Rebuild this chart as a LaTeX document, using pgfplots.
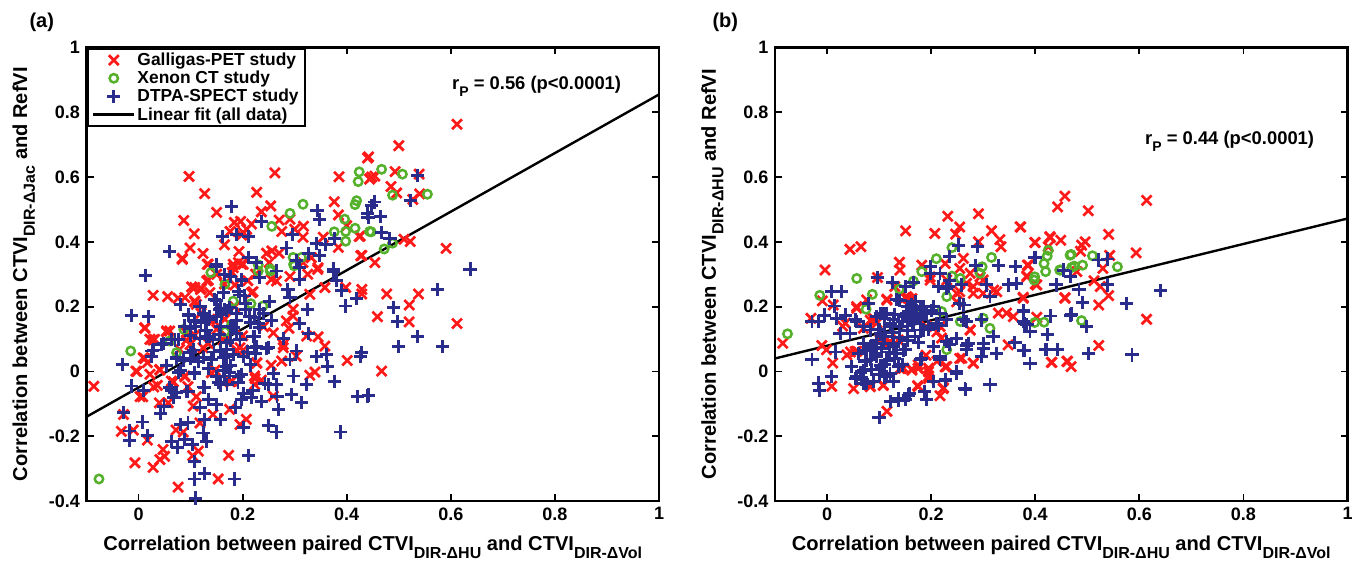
\documentclass[border=0pt]{standalone}
\usepackage{pgfplots}
\pgfplotsset{compat=1.18}
\usepackage{fontspec}
\setmainfont{Liberation Sans}
\definecolor{cred}{HTML}{FF1A1A}
\definecolor{cgreen}{HTML}{55B12B}
\definecolor{cblue}{HTML}{2A2C8C}
\newcommand\sub[1]{\raisebox{-.38em}{\fontsize{16}{16}\selectfont #1}}
\newcommand\subs[1]{\raisebox{-.38em}{\fontsize{14}{14}\selectfont #1}}
\pgfplotsset{
 panel/.style={
  scale only axis, width=572.5pt, height=453.5pt, anchor=south west,
  xmin=-0.1, xmax=1, ymin=-0.4, ymax=1,
  xtick={0,0.2,0.4,0.6,0.8,1}, ytick={-0.4,-0.2,0,0.2,0.4,0.6,0.8,1},
  xticklabels={0,0.2,0.4,0.6,0.8,1},
  yticklabels={-0.4,-0.2,0,0.2,0.4,0.6,0.8,1},
  tick align=inside, major tick length=7pt,
  tick style={line width=1.8pt,black},
  axis line style={line width=2.2pt},
  tick label style={font=\fontsize{18}{20}\bfseries\selectfont},
  xticklabel style={yshift=-3pt},
  yticklabel style={xshift=-3pt},
  label style={font=\fontsize{20.1}{22}\bfseries\selectfont},
  xlabel style={at={(axis description cs:0.5,-0.11)},anchor=base},
  ylabel style={at={(axis description cs:-0.1035,0.5)},anchor=base},
 },
 redm/.style={only marks,mark=x,mark size=7pt,mark options={cred,line width=2.7pt}},
 greenm/.style={only marks,mark=o,mark size=4.2pt,mark options={cgreen,line width=2.5pt,fill=none}},
 bluem/.style={only marks,mark=+,mark size=6.6pt,mark options={cblue,line width=2.9pt}},
}
\begin{document}
\begin{tikzpicture}[x=1pt,y=1pt]
\path[use as bounding box] (0,0) rectangle (1371,565);
\begin{axis}[panel, at={(86.5pt,64pt)},
  xlabel={Correlation between paired CTVI\sub{DIR-ΔHU} and CTVI\sub{DIR-ΔVol}},
  ylabel={Correlation between CTVI\sub{DIR-ΔJac} and RefVI},
  legend cell align=left,
  legend style={at={(0,1)},anchor=north west,draw=black,line width=2.2pt,fill=white,
    font=\fontsize{17.4}{20}\bfseries\selectfont,inner xsep=4.5pt,inner ysep=2.5pt,
    /tikz/every even column/.append style={column sep=0pt}},
  legend image code/.code={\draw[mark repeat=2,mark phase=2,#1] plot coordinates {(0pt,0pt)(20.5pt,0pt)(41pt,0pt)};},
]
\addplot[redm] coordinates {
(.097,.602)(.127,.549)(.150,.491)(.087,.466)(.107,.425)(.099,.381)(.084,.349)(.124,.364)(.132,.331)(.165,.391)
(.262,.613)(.227,.553)(.254,.511)(.236,.493)(.270,.467)(.291,.470)(.184,.460)(.196,.463)(.176,.432)(.201,.429)
(.208,.439)(.217,.455)(.198,.421)(.275,.432)(.317,.448)(.300,.439)(.316,.414)(.385,.601)(.376,.524)(.384,.483)
(.400,.450)(.424,.417)(.355,.414)(.384,.383)(.427,.357)(.440,.659)(.444,.594)(.193,.370)(.246,.365)(.256,.372)
(.270,.365)(.251,.336)(.182,.331)(.192,.336)(.201,.331)(.316,.336)(.332,.351)(.345,.320)
(.612,.763)(.500,.697)(.442,.662)(.493,.617)(.539,.609)(.448,.600)(.454,.603)(.485,.571)(.496,.551)(.540,.548)
(.527,.531)(.426,.418)(.510,.408)(.522,.401)(.591,.380)(.429,.358)(.454,.336)(.429,.239)(.477,.239)(.538,.239)
(.520,.205)(.459,.169)(.520,.153)(.612,.148)(.467,.001)
(-.086,-.046)(-.005,.001)(.012,.135)(.009,.042)(.017,.027)(.022,.099)(.031,.099)(.028,.235)(.056,.231)(.076,.226)
(.089,.228)(.108,.259)(.119,.253)(.108,.217)(.084,.346)(.134,.331)(.131,.279)(.137,.243)(.182,.320)(.198,.331)
(.180,.305)(.217,.243)(.255,.284)(.265,.279)(.291,.293)(.325,.300)(.344,.315)(.329,.238)(.358,.259)(.398,.259)
(.429,.253)(.297,.192)(.284,.156)(.297,.171)(.289,.133)(.259,.119)(.278,.083)(.278,.073)(.323,.109)(.345,.107)
(.358,.078)(.401,.034)(.339,-.002)(.329,-.012)(.303,.047)(.275,.032)(.255,.019)(.259,-.076)(.227,.027)(.223,-.014)
(.236,-.027)(.223,-.040)(.195,.073)(.207,-.148)(.195,-.164)(.175,-.117)(.143,-.133)(.118,-.159)(.115,-.246)(.104,-.260)
(.173,-.259)(.153,-.332)(.076,-.357)(.028,-.296)(.041,-.272)(.050,-.262)(.047,-.241)(-.007,-.282)(.017,-.212)(-.033,-.185)
(-.010,-.181)(-.029,-.133)(.008,-.078)(.040,-.097)(.057,-.097)(.072,-.181)(.086,-.187)(.036,-.043)(.041,.006)(.022,-.009)
(.063,-.030)(.089,-.014)(.095,-.047)(.111,-.078)(.105,-.107)(.140,-.004)(.179,-.030)(.054,.125)(.099,.083)(.111,.207)
(.124,.073)(.079,.068)(.137,.161)(.166,.161)(.169,.109)(.092,.119)(.060,.125)(.150,.300)(.165,.270)(.120,.180)
(.150,.130)(.200,.110)(.185,.200)(.210,.280)(.225,.300)
(.108,.215)(.102,.261)(.121,.256)(.134,.282)(.185,.267)(.220,.246)(.012,.133)(.028,.097)(.012,.040)(-.003,.0)
(.041,.004)(.054,.122)(.092,.097)(.089,-.017)(.144,.158)(.147,.004)(.176,-.032)(.224,-.022)(.227,.025)(.188,.066)
(.240,.138)(.201,.066)(.108,.112)(.134,.086)(.163,.097)(.029,-.048)(.067,-.032)(.003,-.078)
};
\addlegendentry{Galligas-PET study}
\addplot[greenm] coordinates {
(.256,.448)(.291,.488)(.316,.516)(.396,.470)(.376,.431)(.398,.432)(.416,.442)(.398,.402)(.424,.616)(.422,.586)
(.419,.527)(.416,.515)(.444,.432)(.297,.352)(.313,.352)(.230,.329)(.253,.316)(.299,.326)
(.467,.624)(.507,.609)(.488,.544)(.555,.547)(.447,.431)(.488,.396)(.472,.378)
(-.015,.063)(-.076,-.332)(.087,.130)(.060,.094)(.073,.058)(.166,.122)(.179,.145)(.166,.269)(.182,.217)(.216,.209)
(.239,.202)(.139,.305)(.230,.310)(.253,.310)(.298,.331)
};
\addlegendentry{Xenon CT study}
\addplot[bluem] coordinates {
(.178,.508)(.236,.462)(.161,.417)(.188,.422)(.211,.417)(.059,.369)(.150,.331)(.211,.351)(.227,.336)(.284,.381)
(.296,.422)(.343,.496)(.347,.470)(.342,.396)(.360,.393)(.376,.410)(.326,.365)(.348,.357)(.304,.342)(.441,.475)
(.375,.316)(.448,.511)
(.536,.604)(.454,.523)(.522,.527)(.440,.487)(.465,.479)(.467,.429)(.483,.410)(.637,.316)(.574,.252)(.490,.197)
(.498,.154)(.536,.108)(.500,.077)(.584,.077)(.429,.058)(.442,-.073)
(.013,.297)(-.013,.173)(.019,.169)(.081,.207)(.096,.176)(.108,.156)(.127,.176)(.146,.222)(.149,.325)(.166,.300)
(.198,.284)(.192,.248)(.204,.233)(.163,.243)(.166,.192)(.156,.192)(.174,.197)(.252,.217)(.233,.192)(.265,.310)
(.233,.289)(.310,.284)(.310,.320)(.287,.253)(.291,.228)(.374,.307)(.380,.282)(.390,.251)(.419,.225)(.398,.202)
(.324,.192)(.310,.148)(.326,.117)(.278,.102)(.255,.156)(.233,.135)(.223,.109)(.223,.073)(.249,.073)(.303,.063)
(.291,.037)(.342,.045)(.361,.053)(.363,.014)(.426,.045)(.440,-.076)(.420,-.078)(.376,-.030)(.323,-.040)(.297,-.014)
(.260,-.006)(.265,-.040)(.249,-.040)(.294,-.071)(.313,-.097)(.266,-.078)(.236,-.092)(.269,-.117)(.217,-.081)(.198,-.087)
(.249,-.166)(.265,-.187)(.388,-.187)(.201,-.174)(.211,-.259)(.185,-.332)(.127,-.316)(.108,-.332)(.109,-.391)(.108,-.277)
(.104,-.226)(.124,-.190)(.131,-.215)(.126,-.148)(.157,-.148)(.118,-.112)(.150,-.102)(.186,-.112)(.191,-.035)(.198,-.009)
(.153,-.035)(.127,-.050)(.134,-.087)(.095,-.061)(.073,-.066)(.068,-.081)(.060,-.050)(.049,-.107)(.042,-.130)(.081,-.164)
(.089,-.210)(.063,-.217)(.075,-.236)(.095,-.159)(.008,-.156)(-.017,-.184)(-.017,-.212)(.017,-.197)(-.029,-.128)(-.013,-.045)
(.010,-.058)(-.031,.022)(.025,.047)(.026,.063)(.054,.019)(.044,.083)(.063,.099)(.076,.099)(.089,.140)(.073,.042)
(.086,.037)(.076,-.004)(.108,-.004)(.099,.058)(.124,.042)(.140,.037)(.131,.109)(.143,.099)(.156,.114)(.182,.135)
(.195,.099)(.169,.068)(.163,.042)(.182,.053)(.201,.047)(.169,.016)(.175,-.004)(.166,-.014)(.223,.166)(.188,.156)
(.129,.125)(.110,.140)(.100,.110)(.120,.150)(.118,.200)(.135,.160)(.160,.180)(.150,.170)(.100,.040)(.115,.030)
(.135,.010)(.145,.060)(.170,.090)(.205,.190)(.215,.150)(.170,-.040)(.210,.060)(.215,.020)
(.096,.174)(.108,.153)(.099,.133)(.125,.179)(.137,.169)(.157,.195)(.169,.189)(.150,.220)(.195,.236)(.205,.210)
(.188,.179)(.176,.138)(.157,.138)(.131,.128)(.137,.107)(.118,.102)(.105,.066)(.086,.035)(.070,.097)(.048,.086)
(.080,.004)(.073,.040)(.108,-.006)(.157,.066)(.176,.097)(.188,.117)(.220,.107)(.227,.076)(.246,.071)(.224,.055)
(.169,.045)(.176,.019)(.163,.004)(.150,-.017)(.157,-.042)(.125,-.048)(.093,-.063)(.064,-.058)(.201,-.068)(.220,-.058)
(.243,-.037)(.192,-.017)(.214,.169)(.240,.179)(.230,.148)(.198,.282)(.176,.292)(.029,.066)
};
\addlegendentry{DTPA-SPECT study}
\addplot[black,line width=2.4pt,no marks] coordinates {(-0.1,-0.14)(1,0.855)};
\addlegendentry{Linear fit (all data)}
\end{axis}
\begin{axis}[panel, at={(775pt,64pt)},
  xlabel={Correlation between paired CTVI\sub{DIR-ΔHU} and CTVI\sub{DIR-ΔVol}},
  ylabel={Correlation between CTVI\sub{DIR-ΔHU} and RefVI},
]
\addplot[redm] coordinates {
(-.085,.087)(-.031,.164)(-.004,.313)(.044,.377)(.065,.385)(-.009,.218)(.012,.205)(.151,.434)(.097,.290)(.139,.337)
(.140,.313)(.057,.195)(.115,.223)(.232,.479)(.291,.487)(.207,.426)(.247,.424)(.255,.446)(.291,.400)(.316,.434)
(.332,.407)(.334,.385)(.372,.446)(.399,.398)(.428,.416)(.449,.405)(.457,.541)(.443,.508)(.182,.328)(.262,.349)
(.227,.333)(.255,.318)(.275,.303)(.294,.292)(.387,.328)(.384,.292)(.457,.228)(.403,.267)(.377,.226)(.326,.246)
(.300,.241)(.281,.262)(.255,.246)(.249,.215)(.329,.180)(.345,.180)(.358,.169)(.403,.167)(.275,.128)(.217,.139)
(.220,.103)(.348,.082)(.281,.026)(.259,.041)(.432,.028)(.461,.031)(.230,.015)(.211,.031)(.195,.010)(.195,-.015)
(.174,-.044)(.217,-.075)(.224,-.051)(.163,.007)(.147,.010)(.108,-.043)(.115,-.123)(.009,-.046)(.051,-.053)(.083,-.046)
(.011,.026)(-.010,.080)(-.001,.067)(.038,.051)(.057,.062)(.035,.149)(.092,.159)(.156,.226)(.130,.262)(.076,.221)
(.118,.087)(.191,.139)(.198,.282)(.137,.097)(.230,.282)(.088,.165)(.096,.150)(.150,.228)(.160,.222)(.190,.050)
(.175,.020)(.030,.140)(.045,.060)
(.502,.496)(.614,.528)(.371,.446)(.541,.423)(.400,.398)(.429,.413)(.496,.400)(.489,.390)(.487,.371)(.425,.385)
(.594,.366)(.543,.358)(.385,.328)(.530,.318)(.480,.308)(.384,.295)(.400,.270)(.513,.280)(.525,.262)(.541,.234)
(.377,.229)(.457,.226)(.522,.205)(.614,.161)(.522,.080)(.431,.028)(.462,.031)(.469,.015)
(.089,.164)(.091,.155)(.083,.158)(.153,.231)(.163,.225)(.115,.220)(.057,.200)(.070,.133)(.121,.092)(.102,.097)
(.143,.009)(.140,.009)(.163,.004)(.175,.009)(.195,-.001)(.195,-.022)(.175,-.047)(.223,-.053)(.227,.014)(.255,.040)
(.281,.025)(.211,.122)(.054,.061)(.083,-.047)(.108,-.042)(.198,.292)(.249,.241)(.281,.241)(.300,.282)(.320,.251)
(.268,.272)(.275,.128)
};
\addplot[greenm] coordinates {
(-.076,.116)(-.014,.235)(.057,.287)(.087,.238)(.075,.192)(.139,.254)(.166,.279)(.182,.308)(.210,.348)(.240,.382)
(.240,.294)(.256,.287)(.298,.323)(.294,.303)(.316,.352)(.230,.231)(.220,.185)(.185,.185)(.230,.067)(.256,.154)
(.300,.164)(.313,.133)(.399,.151)(.417,.152)(.399,.292)(.398,.282)(.417,.333)(.420,.308)(.423,.356)(.425,.374)
(.447,.313)(.467,.359)(.470,.321)(.449,.313)(.469,.361)(.510,.357)(.491,.328)(.475,.325)(.558,.323)(.489,.157)
};
\addplot[bluem] coordinates {
(-.029,.038)(.009,-.015)(-.017,-.036)(-.014,-.058)(-.029,.154)(-.017,.154)(-.005,.174)(.009,.246)(.028,.246)(.014,.202)
(.019,.164)(.035,.174)(.025,.118)(.044,.118)(.016,.060)(.047,.015)(.060,.056)(.073,.031)(.054,-.021)(.067,-.026)
(.076,-.036)(.097,.290)(.126,.274)(.079,.210)(.150,.262)(.166,.274)(.102,.180)(.115,.180)(.099,.128)(.121,.149)
(.134,.221)(.166,.190)(.179,.200)(.159,.159)(.191,.180)(.204,.200)(.198,.323)(.217,.303)(.236,.354)(.252,.390)
(.289,.385)(.286,.328)(.329,.326)(.362,.323)(.399,.352)(.454,.313)(.440,.267)(.348,.267)(.364,.272)(.307,.267)
(.259,.267)(.233,.262)(.313,.231)(.263,.205)(.377,.188)(.430,.171)(.467,.174)(.380,.149)(.390,.123)(.423,.113)
(.422,.067)(.442,.067)(.377,.064)(.390,.024)(.361,.089)(.326,.056)(.319,.108)(.297,.046)(.300,.087)(.271,.087)
(.268,.067)(.268,.154)(.297,.159)(.249,0)(.227,-.026)(.204,-.031)(.313,-.041)(.266,-.056)(.217,.036)(.179,.036)
(.236,.082)(.204,.077)(.159,-.067)(.150,-.087)(.137,-.090)(.122,-.092)(.100,-.141)(.188,-.062)(.191,-.087)(.127,-.031)
(.115,-.015)(.137,.015)(.111,.021)(.095,.046)(.127,.077)(.150,.067)(.169,.108)(.185,.128)(.211,.149)(.230,.159)
(.070,.087)(.083,.128)(.095,.097)(.111,.108)(.140,.139)(.070,.139)(.083,.036)(.105,.015)(.057,.154)(.153,.180)
(.172,.169)(.163,.205)(.120,.060)(.130,.040)(.090,.075)(.100,.130)(.110,.165)(.125,.120)(.140,.105)(.155,.125)
(.165,.150)(.180,.160)(.195,.130)(.175,.090)(.155,.095)(.105,.070)(.085,.005)(.100,-.010)(.145,.020)(.075,.065)
(.065,-.005)(.090,-.030)(.180,.170)(.155,.200)(.170,.215)(.145,.155)(.130,.175)
(.400,.352)(.454,.311)(.467,.294)(.521,.344)(.539,.347)(.441,.267)(.484,.253)(.539,.267)(.640,.251)(.491,.213)
(.576,.210)(.377,.185)(.469,.177)(.429,.171)(.499,.139)(.377,.154)(.384,.144)(.423,.113)(.379,.064)(.419,.067)
(.443,.067)(.502,.056)(.586,.051)(.390,.024)
(.160,.200)(.172,.179)(.185,.200)(.201,.189)(.217,.179)(.166,.148)(.179,.128)(.195,.138)(.214,.143)(.147,.169)
(.127,.159)(.108,.179)(.095,.169)(.079,.210)(.140,.220)(.121,.138)(.102,.117)(.083,.076)(.095,.055)(.115,.035)
(.134,.055)(.147,.066)(.127,.086)(.108,.086)(.076,.035)(.070,.004)(.057,-.017)(.070,-.037)(.102,.019)(.121,-.006)
(.127,-.032)(.111,-.017)(.054,.159)(.214,.261)(.230,.256)(.236,.282)(.198,.303)(.255,.210)(.262,.159)(.249,.102)
(.268,.081)(.300,.071)(.182,.040)(.217,.045)(.230,.092)(.204,.076)(.249,-.006)(.227,-.027)(.265,-.053)(.313,-.042)
(.156,-.073)(.137,-.084)
};
\addplot[black,line width=2.4pt,no marks] coordinates {(-0.1,0.04)(1,0.472)};
\end{axis}
\node[font=\fontsize{20}{22}\bfseries\selectfont,anchor=west] at (26,543) {(a)};
\node[font=\fontsize{20}{22}\bfseries\selectfont,anchor=west] at (709,543) {(b)};
\node[font=\fontsize{18.4}{20}\bfseries\selectfont,anchor=base west,inner sep=0pt] at (452,475) {r\subs{P} = 0.56 (p<0.0001)};
\node[font=\fontsize{18.4}{20}\bfseries\selectfont,anchor=base west,inner sep=0pt] at (1145,420) {r\subs{P} = 0.44 (p<0.0001)};
\end{tikzpicture}
\end{document}
